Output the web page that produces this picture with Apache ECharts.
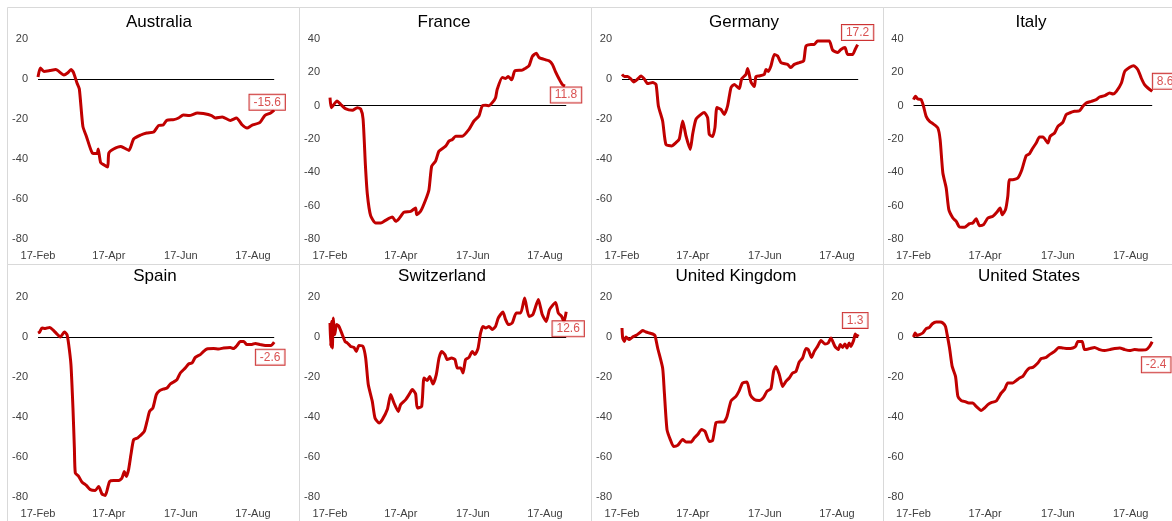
<!DOCTYPE html>
<html>
<head>
<meta charset="utf-8">
<script src="https://cdn.jsdelivr.net/npm/echarts@6/dist/echarts.min.js"></script>
<style>
  html, body { margin: 0; padding: 0; background: #fff; }
  #chart { width: 1172px; height: 521px; }
</style>
</head>
<body>
<div id="chart"></div>
<script>
// days since 17-Feb, value
const xTickDays = [0, 60, 121, 182]
const xTickLabels = ['17-Feb', '17-Apr', '17-Jun', '17-Aug']

const australia = [[0,1],[2,5.5],[5,3.8],[10,4.2],[15,4.7],[22,2],[25,3],[28,4.7],[30,3.3],[33,-2],[35,-5],[38,-23.7],[41,-28.7],[46,-37],[50,-37.3],[51,-35],[53,-41.7],[56,-43],[59,-44],[60,-37],[64,-35],[70,-33.7],[73,-34.5],[77,-35.7],[81,-30],[87,-28],[92,-27],[98,-26.5],[102,-23.3],[106,-23],[109,-20.7],[115,-20.3],[119,-19.5],[123,-18],[128,-18.3],[135,-17],[140,-17.3],[147,-18.3],[150,-19.5],[156,-19],[163,-20.7],[168,-19.5],[173,-23],[177,-24.5],[181,-23.2],[188,-21.7],[192,-18.3],[197,-17],[200,-15.6]]
const france = [[0,4.8],[1,-1.2],[2.5,0],[6,2.8],[9,0.8],[13,-1.8],[19,-2.8],[23,-1.2],[26,-2],[28,-8],[30,-36],[31.6,-53],[34.4,-66],[38.7,-70.4],[43,-70.4],[47,-68.8],[52.8,-66.8],[55.6,-69.4],[58.4,-67.8],[62.6,-64],[68.3,-63.4],[72.5,-61.4],[73.4,-65.4],[76.7,-63.4],[81,-56.4],[83.8,-50.4],[86.1,-36.3],[89.4,-33.3],[92.3,-27.3],[97.9,-24.3],[100.7,-21.3],[103.6,-20.3],[106.4,-18.3],[112,-18.3],[117.7,-14.2],[121.9,-9.2],[126.1,-6.2],[129,0],[131.8,0.2],[134.6,0],[137.4,1.8],[140.2,4.8],[141.6,9.8],[145.9,16.9],[148.7,16.3],[151,17.5],[153.8,15.5],[156.6,20.9],[162.8,21.3],[165.6,22.5],[168.5,23.9],[171.3,29.5],[174.7,31.5],[177,28.9],[182.6,27.5],[185.4,26.9],[188.2,24.9],[191,20.3],[193.8,16.3],[196.6,12.8],[199,11.8]]
const germany = [[0,2.3],[2,1.2],[4.8,1.2],[7.6,0],[9.9,-1.5],[13.3,0],[16.1,1.5],[18.9,0],[21.7,-2.3],[26,-1.8],[28.8,-2.7],[30.8,-13.5],[34.4,-21],[37.2,-32.7],[42,-33.5],[45.7,-31.8],[48.5,-30],[51.4,-21],[54.2,-28.5],[57.8,-35.2],[59.8,-27.7],[62.6,-20.2],[66.9,-17.7],[69.7,-16.8],[72.5,-19.3],[73.9,-27.7],[76.7,-28.8],[78.7,-24.3],[80.4,-14.3],[83.8,-15.2],[86.6,-17.7],[89.4,-13.5],[92.3,-4.3],[95.1,-2.7],[99.3,-4.8],[101.3,0],[104.9,2.3],[106.4,5.2],[109.2,-1.5],[112,-3.8],[113.4,1.2],[116.3,1.5],[120.5,2.3],[121.9,4.8],[123.9,3.8],[126.1,6.5],[129,12.3],[131.8,11.5],[134.6,8.2],[140.2,7.3],[143,5.7],[145.9,7.3],[150.1,8.2],[153.8,9],[155.8,16.5],[160,17.3],[162.8,17.3],[165.6,19],[169.9,19],[175.5,19],[178.3,14.5],[182.6,13.2],[185.4,14.8],[188.8,15.7],[191,12.3],[195.3,12.3],[197.2,14.5],[199.5,17.2]]
const italy = [[0,3.6],[1.7,5.6],[3.6,4],[6.4,3.6],[8.4,-0.4],[10.6,-6.4],[13.4,-9.4],[16.2,-10.8],[20.4,-13.4],[22.3,-20.4],[24.6,-40.4],[27.4,-49.4],[29.6,-62.4],[33,-67.4],[35.8,-69.4],[38.5,-72.8],[42.7,-73],[46.9,-70.8],[49.7,-70.4],[52.5,-67.8],[55.3,-72],[58.7,-71.4],[62.3,-67.4],[66.5,-66.4],[69.8,-64],[72.6,-61.4],[74.3,-65.4],[77.1,-62.4],[79,-54.4],[80.4,-44.4],[83.2,-44.4],[87.4,-43.4],[90.8,-38.4],[94.4,-30],[97.2,-28.8],[100,-25.4],[102.8,-22.4],[105.6,-18.8],[108.4,-18.8],[112.6,-22.4],[114.5,-18.4],[118.2,-16.4],[121,-12.4],[125.1,-10],[127.9,-5.4],[130.7,-4.4],[134.9,-3.4],[139.1,-3],[141.9,-0.4],[144.7,1.6],[148.9,2.6],[153.1,3.6],[155.9,5.2],[160.2,6],[164.4,7.6],[167.2,7],[170,8.6],[174.2,13.6],[177,20.6],[181.2,23],[184.4,24],[188,21.6],[190.8,16.6],[193.6,12.6],[196.4,10.6],[200,8.6]]
const spain = [[0,2],[1.4,2.5],[3.4,4.5],[6.2,4.3],[9.9,4.8],[13.3,3.2],[16.1,1.5],[18.9,0],[22.3,2.5],[24.5,1.2],[26,-3.8],[27.9,-13.8],[29.6,-35.5],[30.8,-55.5],[31.6,-68],[34.4,-69.7],[37.2,-72.5],[40.9,-74.2],[44.3,-76.3],[48.5,-76.7],[51.4,-74.7],[54.2,-78.5],[57,-79.2],[59,-75.5],[60.7,-72.2],[64.1,-71.8],[68.3,-71.8],[71.1,-70.5],[73.1,-67.2],[74.8,-69.7],[76.7,-66.3],[78.7,-58.8],[81,-51.3],[84.4,-50.5],[86.6,-49.3],[90,-47.2],[92.3,-42.2],[94.5,-37.2],[97.3,-35.5],[100.2,-28.8],[103,-26.8],[106.4,-26],[109.2,-25.5],[112,-23.5],[114.8,-22.5],[117.7,-21.3],[120.5,-18],[124.7,-15.5],[127.5,-13.5],[130.4,-13],[133.2,-10.2],[137.4,-8.8],[140.2,-7.2],[143,-6],[148.7,-5.8],[152.9,-6],[157.2,-5.5],[162.8,-5.2],[165.6,-5.8],[168.5,-4.2],[171.3,-2.2],[174.1,-2.2],[176.9,-3.8],[181.1,-3.8],[184,-3.2],[188.2,-3.8],[192.4,-4.3],[197.2,-4.3],[200,-2.6]]
const switzerland = [[0,7],[0.6,-4.7],[1.4,7.8],[2,-5.5],[2.8,9.5],[4,1.2],[5.6,6.2],[7.6,5.3],[10.4,1.2],[12.7,-2.2],[14.7,-3],[17.5,-4.7],[20.3,-5.2],[22.3,-7.2],[24.5,-4.3],[27.9,-4.7],[30.2,-10.5],[32.4,-23.8],[35.8,-32.2],[38.1,-40.5],[41.5,-43],[44.3,-41.3],[48.5,-36.3],[51.4,-28.8],[54.2,-33],[57.8,-37.2],[59.8,-33.8],[64.1,-31.3],[66.9,-28.8],[69.7,-26.3],[72.5,-28.5],[73.9,-35.5],[77.6,-34.7],[79.6,-20.5],[82.4,-21.8],[84.4,-19.7],[87.2,-23.5],[90,-18.8],[92.3,-10.5],[94.5,-7.2],[97.3,-8.8],[99.3,-11.3],[103,-10.5],[105.8,-11.3],[107.8,-15.5],[110.6,-15.5],[112.6,-18],[114.8,-11.3],[117.7,-10.2],[120.5,-7.2],[122.7,-8.8],[125.3,-5.8],[127.5,2],[129.5,5.3],[131.8,4.5],[134.6,5.3],[137.4,3.7],[140.2,5.3],[142.5,9.5],[146.4,12.5],[148.7,8.7],[151,6.2],[154.3,7],[157.7,12],[161.4,12],[164.8,19.5],[168.5,10.3],[171.8,11.2],[176.4,18.7],[179.7,11.2],[183.1,7.8],[185.9,13.7],[191,17.3],[193.3,12],[196.1,10.3],[198.1,7.5],[200,12.6]]
const unitedKingdom = [[0,4.5],[0.6,-0.5],[2,-2.2],[3.4,0],[6.2,-1.3],[9,0],[11.9,0.8],[14.7,2],[17.5,3.2],[20.3,2.5],[23.1,2],[26,1.5],[27.9,0.8],[30.2,-5.5],[34.4,-15.5],[35.8,-27.2],[38.1,-46.3],[40.9,-51.3],[43.7,-54.7],[47.1,-54.2],[51.4,-51.3],[54.2,-52.5],[58.4,-52.5],[61.2,-50.5],[64.1,-48.8],[67.4,-46.3],[70.3,-47.2],[73.9,-52.2],[76.7,-51.8],[79.6,-42.8],[82.4,-42.5],[86.1,-42.5],[88.9,-39.7],[92.3,-32],[96.5,-29.7],[99.3,-26.8],[102.1,-23],[105.8,-22.5],[108.6,-28.8],[112,-31.3],[116.3,-31.8],[119.9,-30.2],[122.7,-27.2],[126.1,-25.8],[128.4,-17.2],[130.4,-14.7],[133.2,-18.8],[136,-24.7],[138.8,-22.2],[141.6,-20.5],[144.5,-18],[147.3,-17.2],[150.1,-12.5],[152.9,-10.5],[155.8,-5.8],[157.7,-6.3],[160.5,-10.2],[162.8,-7.2],[165.6,-4.7],[168.5,-1.8],[171.8,-3.5],[174.6,-3],[176.9,-0.5],[180.3,-4.7],[183.1,-6.3],[184.8,-3.8],[186.8,-5.2],[188.8,-3.5],[190.5,-5.5],[192.4,-3],[193.8,-4.7],[196.1,-1.8],[197.5,1.5],[198.9,0.3],[200,1.3]]
const unitedStates = [[0,0],[1.4,2],[2.8,0.8],[5,1.2],[7.8,2],[10.6,4.2],[13.4,4.8],[15.6,6.5],[19,7.5],[22.3,7.5],[24.6,7],[26.8,5.3],[28.2,1.2],[30.2,-5.5],[32.4,-14.7],[35.2,-19.7],[37.2,-29.7],[40,-31.8],[42.7,-32.2],[46.4,-33],[49.7,-33],[52.5,-34.7],[56.7,-36.7],[59.5,-35.5],[62.3,-33.8],[65.1,-32.8],[69.3,-32],[73.5,-28],[76.3,-26.2],[79,-23],[83.2,-23],[86,-21.8],[88.8,-20.5],[91.6,-19.7],[94.4,-17.2],[97.2,-15.5],[100,-15.2],[104.2,-13],[107,-10.8],[111.2,-10.2],[114,-8.8],[118.2,-7.2],[121.8,-5.2],[125.1,-5.5],[129.3,-5.8],[133.5,-5.5],[135.8,-4.7],[137.7,-2.2],[141.3,-2.2],[143.3,-6.3],[147.5,-5.8],[151.7,-5.2],[155.9,-6.3],[160.1,-6.8],[164.4,-6.3],[168.6,-5.8],[172.8,-5.5],[177,-6.3],[181,-6.8],[185.2,-6.3],[189.4,-6.5],[195,-6.3],[197.8,-4.7],[200,-2.4]]

const countries = ['Australia', 'France', 'Germany', 'Italy', 'Spain', 'Switzerland', 'United Kingdom', 'United States']
const seriesData = [australia, france, germany, italy, spain, switzerland, unitedKingdom, unitedStates]
const yMaxes = [20, 40, 20, 40, 20, 20, 20, 20]

// layout bits per panel
const titleX = [159, 444, 744, 1031, 155, 442, 736, 1029]
const labelOffset = [[-7, -8], [1, 9], [0, -12], [13, -10], [-4, 15], [2, 17], [-3, -14], [4, 23]]

const RED = '#C00000'

const chartDom = document.getElementById('chart')
const myChart = echarts.init(chartDom)

const grids = []
const xAxes = []
const yAxes = []
const titles = []
const series = []
const graphics = []

countries.forEach((name, i) => {
  const col = i % 4
  const row = Math.floor(i / 4)
  const data = seriesData[i]
  const last = data[data.length - 1]

  // panel border
  graphics.push({
    type: 'rect',
    silent: true,
    shape: { x: 7.5 + 292 * col, y: 7.5 + 257 * row, width: col < 3 ? 292 : 300, height: 257 },
    style: { fill: null, stroke: '#d9d9d9', lineWidth: 1 },
  })

  titles.push({
    text: name,
    left: titleX[i],
    top: row ? 268 : 14,
    textAlign: 'center',
    padding: 0,
    textStyle: { fontFamily: 'Liberation Sans', fontSize: 17, fontWeight: 'normal', color: '#000' },
  })

  grids.push({
    left: col < 3 ? 38 + 292 * col : 913.5,
    top: row ? 297 : 39,
    width: col < 3 ? 236.2 : 238.7,
    height: 200,
  })

  xAxes.push({
    gridIndex: i,
    type: 'value',
    min: 0,
    max: 200,
    axisLine: { show: false },
    axisTick: { show: false },
    splitLine: { show: false },
    axisLabel: {
      customValues: xTickDays,
      formatter: (v) => xTickLabels[xTickDays.indexOf(v)],
      margin: 11,
      fontFamily: 'Liberation Sans',
      fontSize: 11,
      color: '#404040',
    },
  })

  yAxes.push({
    gridIndex: i,
    type: 'value',
    min: -80,
    max: yMaxes[i],
    interval: 20,
    axisLine: { show: false },
    axisTick: { show: false },
    splitLine: { show: false },
    axisLabel: { margin: 10, fontFamily: 'Liberation Sans', fontSize: 11, color: '#404040' },
  })

  series.push({
    type: 'line',
    xAxisIndex: i,
    yAxisIndex: i,
    data: data,
    showSymbol: false,
    smooth: 0.2,
    lineStyle: { color: RED, width: 3 },
    z: 3,
    markLine: {
      silent: true,
      symbol: 'none',
      label: { show: false },
      lineStyle: { color: '#000', width: 1, type: 'solid' },
      data: [{ yAxis: 0 }],
      z: 2,
    },
  })

  // last value callout
  series.push({
    type: 'scatter',
    xAxisIndex: i,
    yAxisIndex: i,
    data: [last],
    symbolSize: 1,
    itemStyle: { color: 'rgba(0,0,0,0)' },
    z: 5,
    label: {
      show: true,
      position: 'inside',
      offset: labelOffset[i],
      formatter: (p) => p.value[1].toFixed(1),
      fontFamily: 'Liberation Sans',
      fontSize: 12,
      color: '#D02626',
      backgroundColor: '#fff',
      borderColor: RED,
      borderWidth: 1,
      padding: [2, 4, 1, 4],
    },
  })
})

const option = {
  animation: false,
  backgroundColor: '#fff',
  title: titles,
  grid: grids,
  xAxis: xAxes,
  yAxis: yAxes,
  series: series,
  graphic: graphics,
}
option && myChart.setOption(option)
</script>
</body>
</html>
